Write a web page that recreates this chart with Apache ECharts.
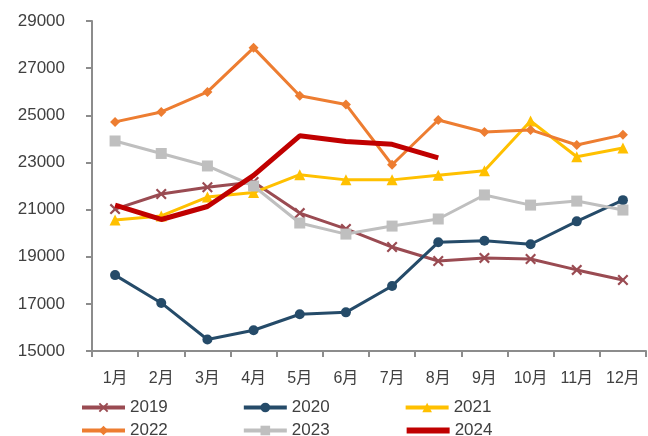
<!DOCTYPE html>
<html>
<head>
<meta charset="utf-8">
<script src="https://cdn.jsdelivr.net/npm/echarts@6/dist/echarts.min.js"></script>
<style>
  html, body { margin: 0; padding: 0; background: #fff; }
  #chart { width: 648px; height: 436px; }
</style>
</head>
<body>
<div id="chart"></div>
<script>
// 月份
const months = ['1月', '2月', '3月', '4月', '5月', '6月', '7月', '8月', '9月', '10月', '11月', '12月'];

const y2019 = [21020, 21660, 21950, 22170, 20850, 20180, 19410, 18820, 18950, 18900, 18440, 18010];
const y2020 = [18220, 17040, 15490, 15880, 16560, 16640, 17760, 19610, 19680, 19530, 20500, 21400];
const y2021 = [20560, 20730, 21530, 21720, 22480, 22260, 22260, 22460, 22650, 24760, 23240, 23610];
const y2022 = [24720, 25140, 25990, 27860, 25830, 25460, 22900, 24800, 24290, 24380, 23740, 24170];
const y2023 = [23910, 23380, 22850, 22000, 20430, 19960, 20300, 20600, 21620, 21190, 21360, 20980];
const y2024 = [21190, 20580, 21130, 22450, 24130, 23890, 23770, 23190];

const font = '"Liberation Sans", "Noto Sans CJK SC", sans-serif';
const xMark = 'path://M0,1.4L1.4,0L5,3.6L8.6,0L10,1.4L6.4,5L10,8.6L8.6,10L5,6.4L1.4,10L0,8.6L3.6,5Z';

function line(name, data, color, symbol, size, width) {
  return {
    name: name,
    type: 'line',
    data: data,
    symbol: symbol,
    symbolSize: size,
    showSymbol: symbol !== 'none',
    lineStyle: { color: color, width: width },
    itemStyle: { color: color },
    z: name === '2024' ? 5 : 2,
    animation: false
  };
}

const legendText = { fontSize: 17, color: '#404040', fontFamily: font };

const chart = echarts.init(document.getElementById('chart'));
chart.setOption({
  animation: false,
  textStyle: { fontFamily: font },
  grid: { left: 92, right: 2, top: 21, bottom: 85 },
  legend: [
    {
      data: ['2019', '2020', '2021'],
      left: 80, top: 399, padding: 0,
      itemWidth: 43, itemHeight: 12, itemGap: 74,
      lineStyle: { width: 4 },
      textStyle: legendText
    },
    {
      data: ['2022', '2023', { name: '2024', itemStyle: { opacity: 0 }, lineStyle: { width: 6 } }],
      left: 80, top: 422, padding: 0,
      itemWidth: 43, itemHeight: 12, itemGap: 74,
      lineStyle: { width: 4 },
      textStyle: legendText
    }
  ],
  xAxis: {
    type: 'category',
    data: months,
    boundaryGap: true,
    axisLine: { lineStyle: { color: '#8c8c8c', width: 2 } },
    axisTick: { show: true, length: 6, lineStyle: { color: '#8c8c8c', width: 2 } },
    axisLabel: { fontSize: 16, color: '#404040', margin: 20, interval: 0 }
  },
  yAxis: {
    type: 'value',
    min: 15000, max: 29000, interval: 2000,
    axisLine: { show: true, lineStyle: { color: '#8c8c8c', width: 2 } },
    axisTick: { show: true, length: 6, lineStyle: { color: '#8c8c8c', width: 2 } },
    splitLine: { show: false },
    axisLabel: { fontSize: 17, color: '#404040', margin: 27, formatter: v => String(v) }
  },
  series: [
    line('2019', y2019, '#9a4b52', xMark, 11, 3),
    line('2020', y2020, '#254b69', 'circle', 10, 3),
    line('2021', y2021, '#ffc000', 'triangle', 11, 3),
    line('2022', y2022, '#ed7d31', 'diamond', 10, 3),
    line('2023', y2023, '#bfbfbf', 'rect', 11, 3),
    line('2024', y2024, '#c00000', 'none', 0, 5)
  ]
});
</script>
</body>
</html>
